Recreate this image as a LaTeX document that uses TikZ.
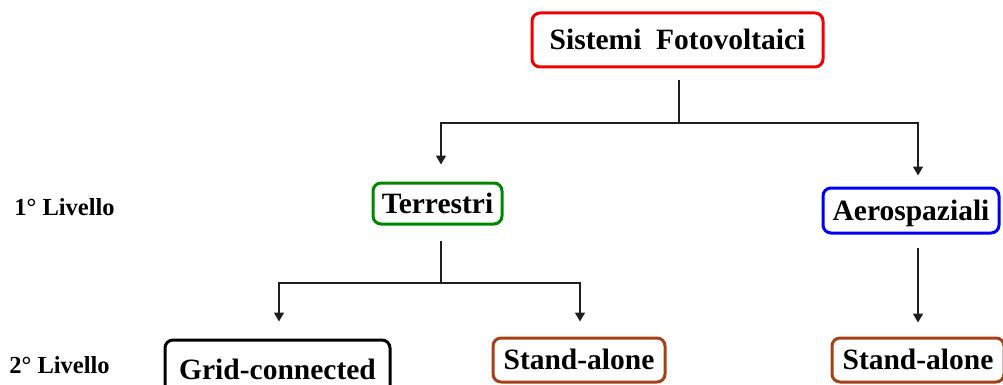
\documentclass[tikz,border=0pt]{standalone}
\usepackage{fontspec}
\setmainfont{Liberation Serif}
\usetikzlibrary{arrows.meta}

\definecolor{boxred}{RGB}{240,0,0}
\definecolor{boxgreen}{RGB}{0,135,0}
\definecolor{boxblue}{RGB}{0,0,245}
\definecolor{boxbrown}{RGB}{165,65,20}
\definecolor{linegray}{RGB}{30,30,30}

\tikzset{
  box/.style={draw, line width=3pt, rounded corners=8pt, inner sep=0pt,
    fill=white, font=\bfseries\fontsize{29.5}{30}\selectfont,
    text height=19.5pt, text depth=0pt, align=center},
  level/.style={inner sep=0pt, font=\bfseries\fontsize{24.5}{25}\selectfont,
    text height=16.2pt, text depth=0pt},
  conn/.style={draw=linegray, line width=1.6pt},
  arr/.style={conn, -{Triangle[length=9pt,width=10pt]}},
}

\begin{document}
\begin{tikzpicture}[x=1pt, y=-1pt]
\useasboundingbox (0,0) rectangle (1003,385);

% boxes
\node[box, draw=boxred, minimum width=291pt, minimum height=54pt] (top) at (677.5,40) {Sistemi\ \ Fotovoltaici};
\node[box, draw=boxgreen, minimum width=129pt, minimum height=41pt] (terr) at (437.5,203.5) {Terrestri};
\node[box, draw=boxblue, minimum width=176pt, minimum height=45pt] (aero) at (911,210.5) {Aerospaziali};
\node[box, draw=black, minimum width=225pt, minimum height=60pt] (grid) at (277.5,370) {Grid-connected};
\node[box, draw=boxbrown, minimum width=172pt, minimum height=44pt] (sa1) at (579,360) {Stand-alone};
\node[box, draw=boxbrown, minimum width=172pt, minimum height=44pt] (sa2) at (918,360) {Stand-alone};

% level labels
\node[level] (l1) at (64.5,207) {1° Livello};
\node[level] (l2) at (59.5,365) {2° Livello};

% branch points
\coordinate (b1) at (679,123);
\coordinate (b2) at (441,283);

% connectors
\draw[conn] ([xshift=1.5pt,yshift=-12pt]top.south) -- (b1);
\draw[arr] (b1) -| ([xshift=3.5pt,yshift=17pt]terr.north);
\draw[arr] (b1) -| ([xshift=7pt,yshift=11pt]aero.north);

\draw[conn] ([xshift=3.5pt,yshift=-15pt]terr.south) -- (b2);
\draw[arr] (b2) -| ([xshift=1.5pt,yshift=17pt]grid.north);
\draw[arr] (b2) -| ([xshift=1pt,yshift=15pt]sa1.north);

\draw[arr] ([xshift=7pt,yshift=-13pt]aero.south) -- ([yshift=14pt]sa2.north);
\end{tikzpicture}
\end{document}
